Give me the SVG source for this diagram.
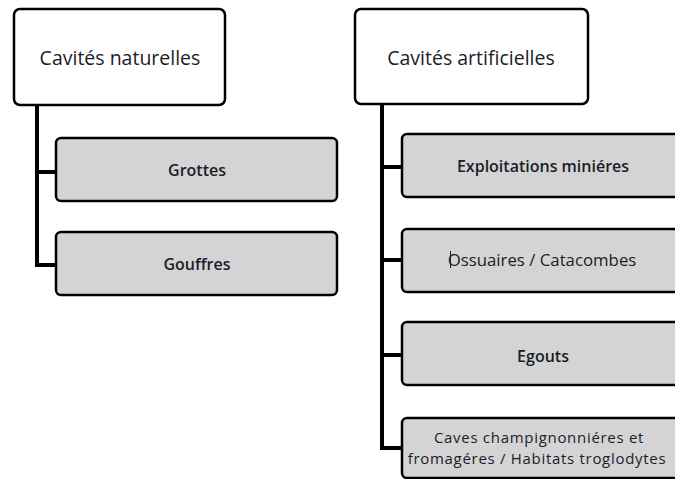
<svg xmlns="http://www.w3.org/2000/svg" width="675" height="479" viewBox="0 0 675 479">
<style>
.parent{fill:#ffffff;stroke:#000;stroke-width:2.5}
.child{fill:#d4d4d4;stroke:#000;stroke-width:2.5}
.conn{fill:none;stroke:#000;stroke-width:4}
text{font-family:"Open Sans","Noto Sans","Liberation Sans",sans-serif;fill:#1c1c2a;text-anchor:middle;dominant-baseline:central}
.pt{font-size:19.5px}
.ct{font-size:16px;font-weight:600}
.rt{font-size:16.8px}
.cv{font-size:15px;letter-spacing:0.7px}
</style>
<rect width="675" height="479" fill="#fff"/>
<g id="connectors">
<path class="conn" d="M37 106 V265 H56 M37 172 H56"/>
<path class="conn" d="M382 104 V448 H402 M382 167 H402 M382 260 H402 M382 355 H402"/>
</g>
<g id="n-naturelles"><rect class="parent" x="14" y="9" width="211" height="96" rx="6"/><text class="pt" x="120" y="57">Cavités naturelles</text></g>
<g id="n-artificielles"><rect class="parent" x="355" y="9" width="233" height="95" rx="6"/><text class="pt" x="471" y="57">Cavités artificielles</text></g>
<g id="n-grottes"><rect class="child" x="56" y="138" width="281" height="63" rx="5"/><text class="ct" x="197" y="170">Grottes</text></g>
<g id="n-gouffres"><rect class="child" x="56" y="232" width="281" height="63" rx="5"/><text class="ct" x="197" y="264">Gouffres</text></g>
<g id="n-exploitations"><rect class="child" x="402" y="134" width="284" height="63" rx="5"/><text class="ct" x="543" y="166">Exploitations miniéres</text></g>
<g id="n-ossuaires"><rect class="child" x="402" y="229" width="284" height="63" rx="5"/><text class="rt" x="542" y="259">Ossuaires / Catacombes</text><line x1="450.5" y1="251" x2="450.5" y2="268" stroke="#1c1c2a" stroke-width="1"/></g>
<g id="n-egouts"><rect class="child" x="402" y="322" width="284" height="63" rx="5"/><text class="ct" x="543" y="356">Egouts</text></g>
<g id="n-caves"><rect class="child" x="402" y="418" width="284" height="60" rx="5"/><text class="cv" x="539" y="437">Caves champignonniéres et</text><text class="cv" x="537" y="458">fromagéres / Habitats troglodytes</text></g>
</svg>
